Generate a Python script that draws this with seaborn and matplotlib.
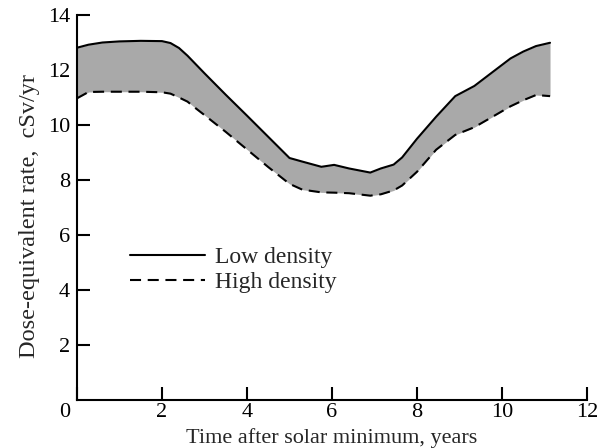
import matplotlib
matplotlib.use("Agg")
import matplotlib.pyplot as plt
from matplotlib.transforms import ScaledTranslation
import seaborn as sns
import pandas as pd

years = [0.0, 0.27, 0.6, 1.0, 1.5, 2.0, 2.2, 2.4, 2.6, 2.8, 3.0, 3.5, 4.0, 4.5, 5.0,
         5.3, 5.75, 6.05, 6.4, 6.9, 7.15, 7.45, 7.65, 8.0, 8.45, 8.9, 9.35, 9.8,
         10.2, 10.5, 10.8, 11.13]
low_density = [12.81, 12.92, 13.0, 13.04, 13.06, 13.05, 12.98, 12.8, 12.52, 12.2, 11.88,
               11.1, 10.34, 9.57, 8.8, 8.67, 8.48, 8.55, 8.42, 8.27, 8.42, 8.56,
               8.82, 9.5, 10.3, 11.05, 11.42, 11.95, 12.42, 12.67, 12.87, 12.99]
high_density = [10.97, 11.2, 11.21, 11.21, 11.21, 11.19, 11.14, 11.0, 10.85, 10.6, 10.36,
                9.75, 9.11, 8.47, 7.86, 7.65, 7.55, 7.54, 7.52, 7.43, 7.48, 7.62,
                7.8, 8.3, 9.1, 9.64, 9.92, 10.32, 10.68, 10.9, 11.09, 11.05]
series_names = ["Low density", "High density"]
xticks = [0, 2, 4, 6, 8, 10, 12]
yticks = [2, 4, 6, 8, 10, 12, 14]

FS_TICK = 16
FS_XLAB = 16
FS_YLAB = 17.5
FS_LEG = 17
sns.set_style("ticks")
plt.rcParams["font.family"] = ["Liberation Serif", "DejaVu Serif"]
plt.rcParams["font.size"] = FS_TICK

df = pd.concat([
    pd.DataFrame({"x": years, "y": low_density, "density": series_names[0]}),
    pd.DataFrame({"x": years, "y": high_density, "density": series_names[1]}),
])

fig = plt.figure(figsize=(6.11, 4.48), dpi=100)
ax = fig.add_axes([77 / 611, 1 - 400 / 448, (587 - 77) / 611, (400 - 15) / 448])

ax.fill_between(years, high_density, low_density, color="#a9a9a9", linewidth=0, zorder=1)
sns.lineplot(data=df, x="x", y="y", style="density", style_order=series_names,
             dashes={series_names[0]: "", series_names[1]: (5.3, 3.2)},
             color="black", linewidth=1.5, ax=ax, sort=False, zorder=3)
for ln in ax.get_lines():
    ln.set_solid_joinstyle("round")
    ln.set_dash_joinstyle("round")

ax.set_xlim(0, 12)
ax.set_ylim(0, 14)
ax.set_xticks(xticks)
ax.set_yticks(yticks)
ax.set_xticklabels([str(v) for v in xticks])
ax.set_yticklabels([str(v) for v in yticks])
ax.tick_params(direction="in", length=9.5, width=1.5, labelsize=FS_TICK, colors="black", pad=2)
ax.tick_params(axis="y", pad=5)
# the "0" label sits at the corner, left of the axis origin
lbl0 = ax.get_xticklabels()[0]
lbl0.set_transform(lbl0.get_transform() + ScaledTranslation(-12 / 100, 0, fig.dpi_scale_trans))

for side in ["top", "right"]:
    ax.spines[side].set_visible(False)
for side in ["left", "bottom"]:
    ax.spines[side].set_linewidth(1.5)
    ax.spines[side].set_color("black")

ax.set_xlabel("Time after solar minimum, years", fontsize=FS_XLAB, labelpad=4.5)
ax.set_ylabel("Dose-equivalent rate,  cSv/yr", fontsize=FS_YLAB)
ax.yaxis.set_label_coords(-0.073, 0.478)

leg = ax.legend(loc="upper left", bbox_to_anchor=(0.0855, 0.423), frameon=False,
                handlelength=3.18, handletextpad=0.42, labelspacing=0.16, fontsize=FS_LEG,
                borderaxespad=0)
for h in leg.get_lines():
    h.set_linewidth(1.5)

fig.savefig("out.png", dpi=100)
